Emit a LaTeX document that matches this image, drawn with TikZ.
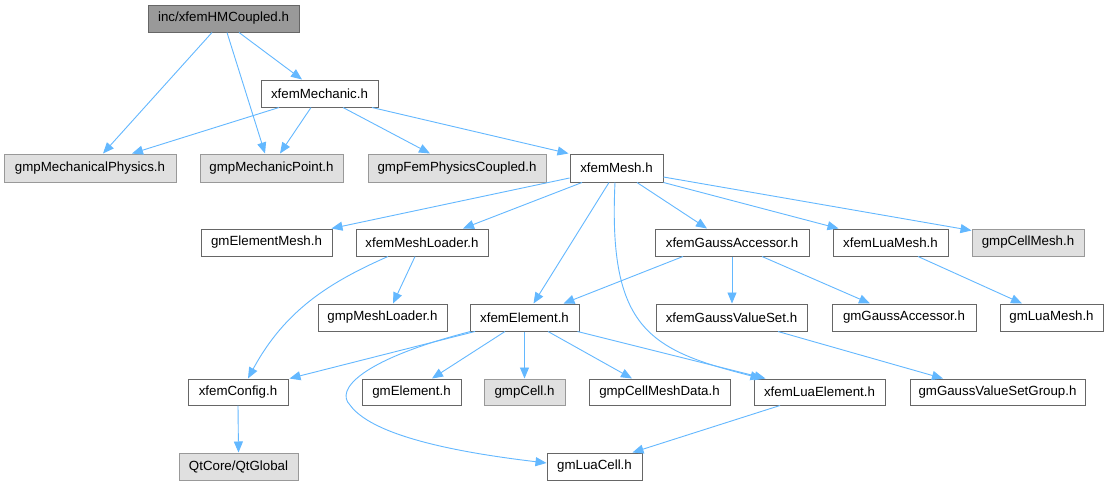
\documentclass[tikz,border=0pt]{standalone}
\usepackage{fontspec}
\setmainfont{Liberation Sans}
\usetikzlibrary{arrows.meta}
\definecolor{edgeblue}{HTML}{63B8FF}
\definecolor{rootfill}{HTML}{999999}
\definecolor{rootdraw}{HTML}{666666}
\definecolor{extfill}{HTML}{E0E0E0}
\definecolor{extdraw}{HTML}{999999}
\tikzset{
  base/.style={rectangle, inner sep=0pt, minimum height=27pt, line width=1pt,
    font=\fontsize{13.3}{15}\selectfont, text=black},
  wbox/.style={base, draw=rootdraw, fill=white},
  gbox/.style={base, draw=extdraw, fill=extfill},
  rbox/.style={base, draw=rootdraw, fill=rootfill},
  edge/.style={draw=edgeblue, line width=0.9pt,
    -{Triangle[length=11pt,width=9pt]}}
}
\begin{document}
\begin{tikzpicture}[x=1pt,y=-1pt]
\useasboundingbox[fill=white] (0,0) rectangle (1109,485);
% nodes
\node[rbox, minimum width=151pt] (hm) at (223.5,18.5) {inc/xfemHMCoupled.h};
\node[wbox, minimum width=117pt] (mech) at (319.5,93.5) {xfemMechanic.h};
\node[gbox, minimum width=172pt, minimum height=28pt] (mphys) at (90,168) {gmpMechanicalPhysics.h};
\node[gbox, minimum width=143pt, minimum height=28pt] (mpoint) at (271.5,168) {gmpMechanicPoint.h};
\node[gbox, minimum width=178pt, minimum height=28pt] (femphys) at (457,168) {gmpFemPhysicsCoupled.h};
\node[wbox, minimum width=93pt, minimum height=28pt] (mesh) at (616.5,168) {xfemMesh.h};
\node[wbox, minimum width=131pt] (elmesh) at (266.5,242.5) {gmElementMesh.h};
\node[wbox, minimum width=132pt] (meshloader) at (422,242.5) {xfemMeshLoader.h};
\node[wbox, minimum width=154pt] (gaussacc) at (732,242.5) {xfemGaussAccessor.h};
\node[wbox, minimum width=115pt] (luamesh) at (890.5,242.5) {xfemLuaMesh.h};
\node[gbox, minimum width=112pt] (cellmesh) at (1028,242.5) {gmpCellMesh.h};
\node[wbox, minimum width=129pt] (gmpmeshloader) at (382.5,317.5) {gmpMeshLoader.h};
\node[wbox, minimum width=109pt] (element) at (524.5,317.5) {xfemElement.h};
\node[wbox, minimum width=151pt] (gaussvs) at (731.5,317.5) {xfemGaussValueSet.h};
\node[wbox, minimum width=144pt] (gmgaussacc) at (904,317.5) {gmGaussAccessor.h};
\node[wbox, minimum width=103pt] (gmluamesh) at (1051.5,317.5) {gmLuaMesh.h};
\node[wbox, minimum width=100pt, minimum height=26pt] (config) at (238,392) {xfemConfig.h};
\node[wbox, minimum width=99pt, minimum height=26pt] (gmelement) at (411.5,392) {gmElement.h};
\node[gbox, minimum width=81pt, minimum height=26pt] (cell) at (524.5,392) {gmpCell.h};
\node[wbox, minimum width=141pt, minimum height=26pt] (cellmeshdata) at (659.5,392) {gmpCellMeshData.h};
\node[wbox, minimum width=131pt, minimum height=26pt] (luaelement) at (819.5,392) {xfemLuaElement.h};
\node[wbox, minimum width=175pt, minimum height=26pt] (gvsgroup) at (997.5,392) {gmGaussValueSetGroup.h};
\node[gbox, minimum width=119pt] (qt) at (238.5,466.5) {QtCore/QtGlobal};
\node[wbox, minimum width=95pt] (luacell) at (594.5,466.5) {gmLuaCell.h};
% edges
\draw[edge] ([xshift=-11.5pt]hm.south) -- ([xshift=13pt]mphys.north);
\draw[edge] ([xshift=3.5pt]hm.south) -- ([xshift=-6.5pt]mpoint.north);
\draw[edge] ([xshift=15.5pt]hm.south) -- ([xshift=-17.5pt]mech.north);
\draw[edge] ([xshift=-40.5pt]mech.south) -- ([xshift=42pt]mphys.north);
\draw[edge] ([xshift=-8.5pt]mech.south) -- ([xshift=8.5pt]mpoint.north);
\draw[edge] ([xshift=23.5pt]mech.south) -- ([xshift=-27pt]femphys.north);
\draw[edge] ([xshift=52.5pt]mech.south) -- ([xshift=-1pt]mesh.north west);
\draw[edge] ([yshift=-10pt]mesh.west) -- ([xshift=-1pt]elmesh.north east);
\draw[edge] ([xshift=-34.5pt]mesh.south) -- ([xshift=41pt]meshloader.north);
\draw[edge] ([xshift=-7.5pt]mesh.south) -- ([xshift=9pt]element.north);
\draw[edge] ([xshift=-1.5pt]mesh.south) .. controls (608,330) and (650,350) .. ([xshift=-58pt]luaelement.north);
\draw[edge] ([xshift=20.5pt]mesh.south) -- ([xshift=-25pt]gaussacc.north);
\draw[edge] (mesh.south east) -- ([xshift=-52pt]luamesh.north);
\draw[edge] ([yshift=-9pt]mesh.east) -- ([yshift=-2pt]cellmesh.north west);
\draw[edge] ([xshift=-34pt]meshloader.south) .. controls (330,282) and (285,310) .. ([xshift=10pt]config.north);
\draw[edge] ([xshift=-7pt]meshloader.south) -- ([xshift=10.5pt]gmpmeshloader.north);
\draw[edge] ([xshift=-49pt]gaussacc.south) -- ([xshift=39pt]element.north);
\draw[edge] (gaussacc.south) -- ([xshift=0.5pt]gaussvs.north);
\draw[edge] ([xshift=30pt]gaussacc.south) -- ([xshift=-34pt]gmgaussacc.north);
\draw[edge] ([xshift=27.5pt]luamesh.south) -- ([xshift=-29.5pt]gmluamesh.north);
\draw[edge] ([xshift=46.5pt]gaussvs.south) -- ([xshift=-54.5pt]gvsgroup.north);
\draw[edge] ([xshift=-49.5pt]element.south) -- ([xshift=1pt]config.north east);
\draw[edge] ([xshift=1pt]element.south west) .. controls (360,360) and (335,390) .. (350,405) .. controls (375,440) and (480,455) .. ([yshift=3.5pt]luacell.west);
\draw[edge] ([xshift=-19.5pt]element.south) -- ([xshift=20.5pt]gmelement.north);
\draw[edge] (element.south) -- (cell.north);
\draw[edge] ([xshift=23.5pt]element.south) -- ([xshift=-27.5pt]cellmeshdata.north);
\draw[edge] ([xshift=-2pt]element.south east) -- ([xshift=-54pt]luaelement.north);
\draw[edge] ([xshift=-39.5pt]luaelement.south) -- ([xshift=-10pt]luacell.north east);
\draw[edge] (config.south) -- (qt.north);
\end{tikzpicture}
\end{document}
